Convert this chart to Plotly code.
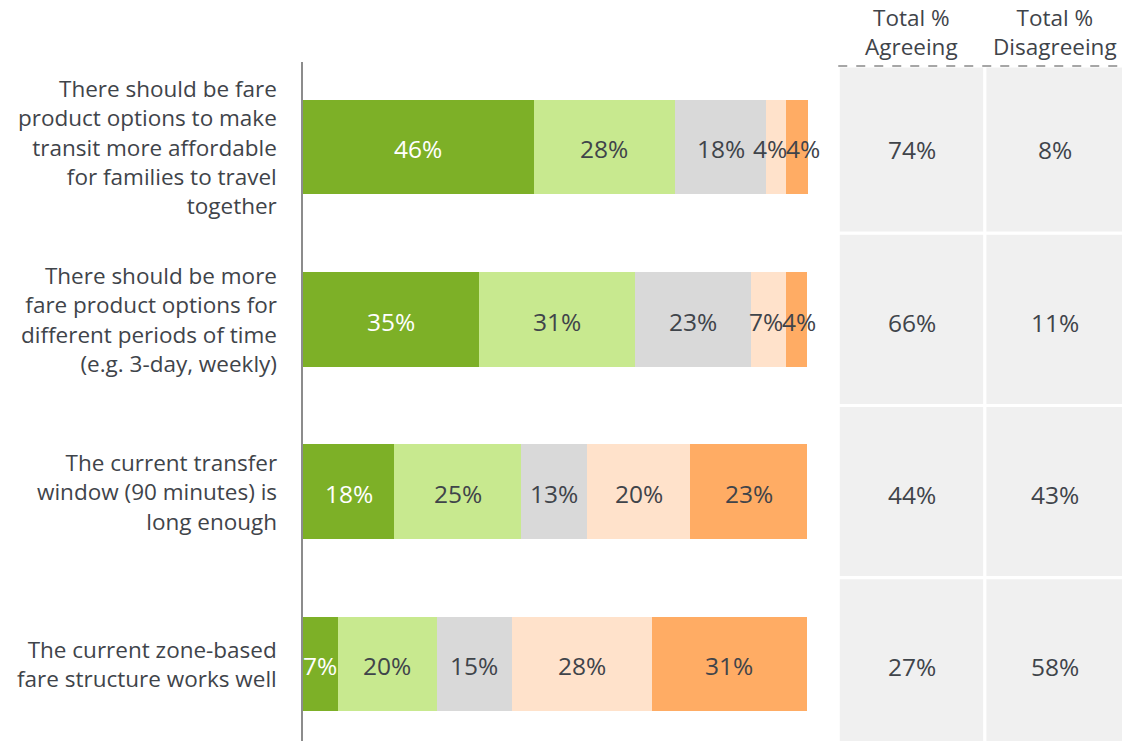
import plotly.graph_objects as go

statements = [
    "There should be fare<br>product options to make<br>transit more affordable<br>for families to travel<br>together",
    "There should be more<br>fare product options for<br>different periods of time<br>(e.g. 3-day, weekly)",
    "The current transfer<br>window (90 minutes) is<br>long enough",
    "The current zone-based<br>fare structure works well",
]
levels = ["Strongly agree", "Agree", "Neutral", "Disagree", "Strongly disagree"]
strongly_agree = [45.8, 34.9, 18.1, 6.9]
agree = [28.0, 31.0, 25.2, 19.6]
neutral = [18.1, 23.0, 13.1, 14.9]
disagree = [4.0, 6.9, 20.4, 27.8]
strongly_disagree = [4.2, 4.2, 23.2, 30.8]
total_agree = ["74%", "66%", "44%", "27%"]
total_disagree = ["8%", "11%", "43%", "58%"]

colors = ["#7DB027", "#C8E98F", "#D9D9D9", "#FFE2CB", "#FFAC64"]
label_colors = ["white", "#3F444A", "#3F444A", "#3F444A", "#3F444A"]
text_color = "#3F444A"
font = "Open Sans"
fs_label = 22.5
fs_value = 24.5

series = [strongly_agree, agree, neutral, disagree, strongly_disagree]
rows = list(range(len(statements)))

fig = go.Figure()
for name, vals, col in zip(levels, series, colors):
    fig.add_trace(go.Bar(
        y=rows, x=vals, orientation="h", name=name, width=0.55,
        marker=dict(color=col, line=dict(width=0)), showlegend=False,
        hoverinfo="skip",
    ))

# segment labels, nudged apart when they would collide
pct_per_char = 16.5 / 5.04
for r in rows:
    left = 0
    items = []
    for k, vals in enumerate(series):
        v = vals[r]
        txt = f"{round(v):.0f}%"
        items.append([left + v / 2, len(txt) * pct_per_char, txt, k])
        left += v
    for _ in range(5):
        for a, b in zip(items, items[1:]):
            overlap = (a[0] + a[1] / 2) - (b[0] - b[1] / 2)
            if overlap > 0:
                a[0] -= overlap / 2
                b[0] += overlap / 2
    for cx, w, txt, k in items:
        fig.add_annotation(x=cx, y=r, xref="x", yref="y", text=txt, showarrow=False,
                           yshift=-2,
                           font=dict(family=font, size=fs_value, color=label_colors[k]))

# statement labels
for r, s in zip(rows, statements):
    fig.add_annotation(x=0, y=r, xref="paper", yref="y", text=s, showarrow=False,
                       xanchor="right", align="right", xshift=-24,
                       font=dict(family=font, size=fs_label, color=text_color))

# summary table on the right
col_edges = [(106.2, 135.3), (135.3, 163)]
top = -0.47
for r in rows:
    y0 = top if r == 0 else r - 0.5
    for x0, x1 in col_edges:
        fig.add_shape(type="rect", x0=x0, x1=x1, y0=y0, y1=r + 0.5, xref="x", yref="y",
                      fillcolor="#F0F0F0", line=dict(color="white", width=3), layer="below")
    for (x0, x1), txt in zip(col_edges, [total_agree[r], total_disagree[r]]):
        fig.add_annotation(x=(x0 + x1) / 2, y=r, xref="x", yref="y", text=txt, showarrow=False,
                           yshift=-3,
                           font=dict(family=font, size=fs_value, color=text_color))

fig.add_shape(type="line", x0=col_edges[0][0], x1=col_edges[1][1], y0=top, y1=top,
              xref="x", yref="y", line=dict(color="#A6A6A6", width=2, dash="dash"))

for (x0, x1), head in zip(col_edges, ["Total %<br>Agreeing", "Total %<br>Disagreeing"]):
    fig.add_annotation(x=(x0 + x1) / 2, y=1, xref="x", yref="paper", text=head, showarrow=False,
                       yanchor="bottom", yshift=-2,
                       font=dict(family=font, size=fs_label, color=text_color))

fig.update_layout(
    barmode="stack",
    width=1122, height=741,
    margin=dict(l=303, r=0, t=62, b=0),
    plot_bgcolor="white", paper_bgcolor="white",
    xaxis=dict(range=[0, 819 / 5.04], visible=False),
    yaxis=dict(range=[3.447, -0.493], showticklabels=False, showgrid=False, zeroline=False,
               showline=True, linecolor="#8C8C8C", linewidth=2, ticks=""),
)

fig.write_html("out.html", config={"displayModeBar": False},
               post_script="document.body.style.margin='0';")
